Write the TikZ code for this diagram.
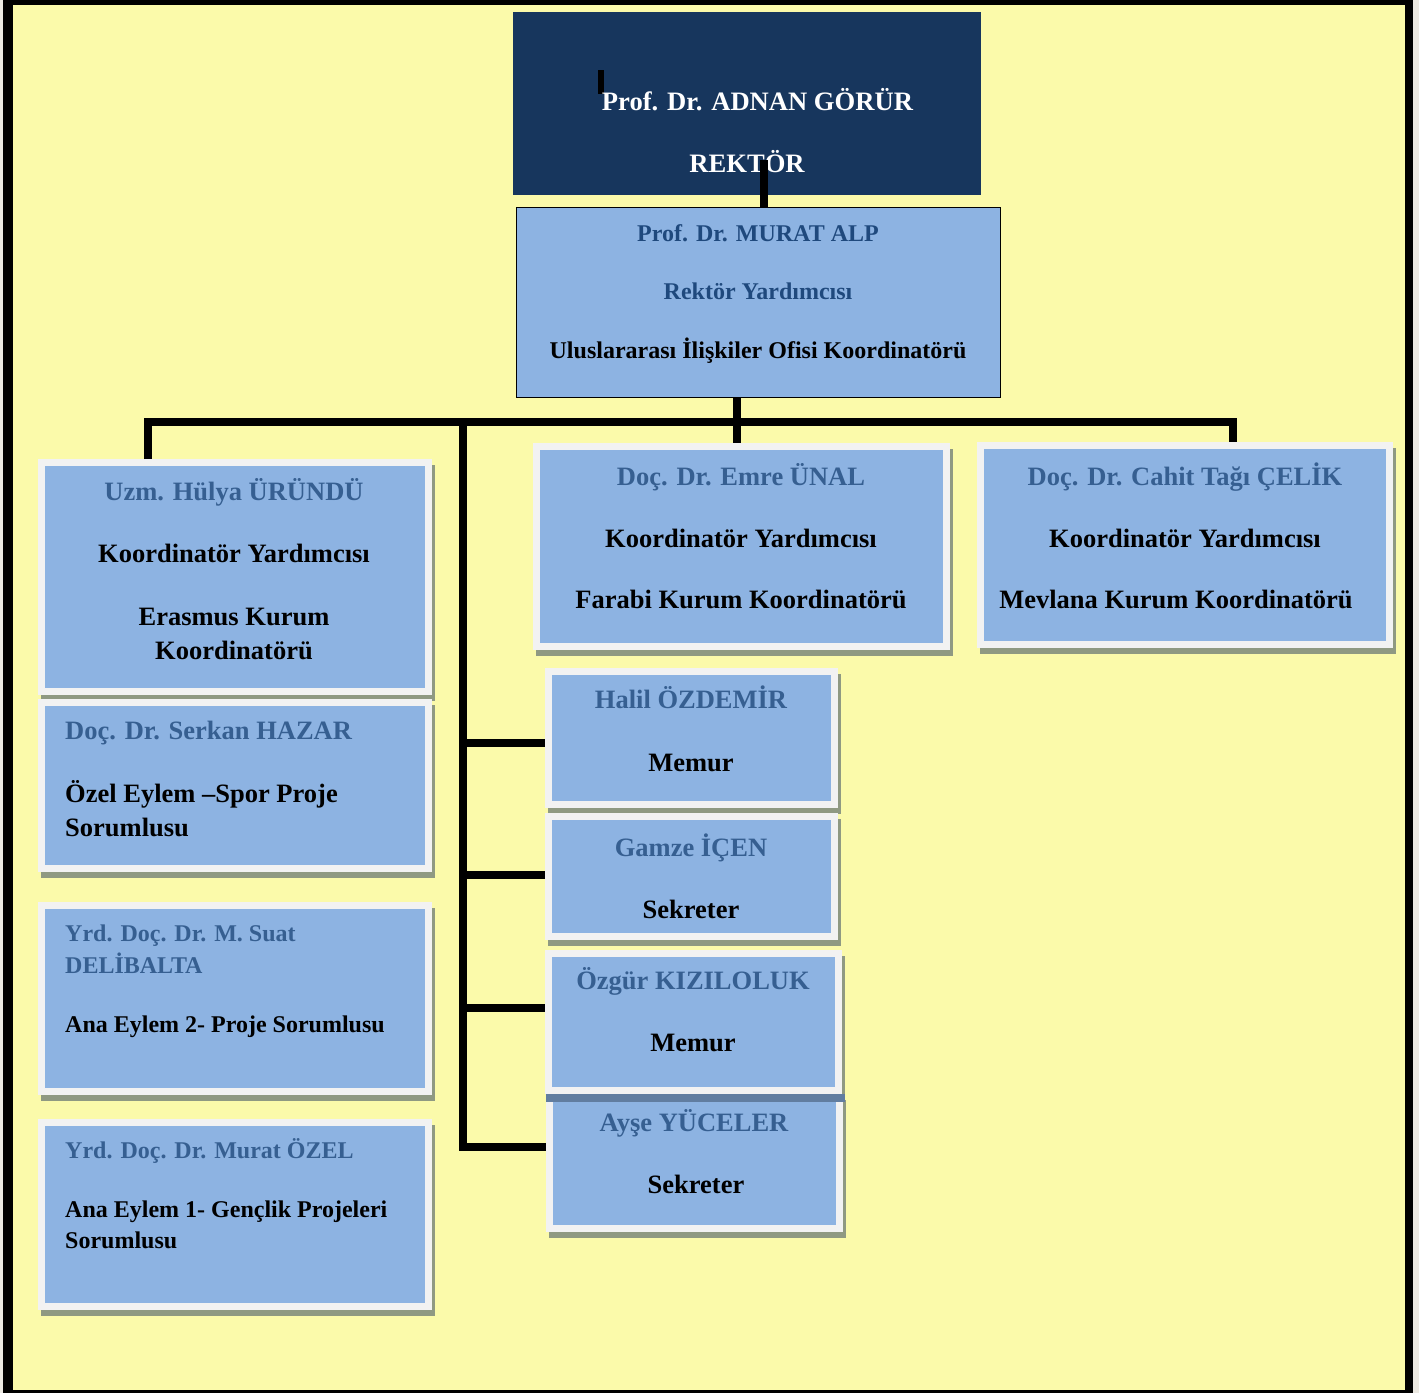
\documentclass[tikz,border=0pt]{standalone}
\usepackage{fontspec}
\setmainfont{Liberation Serif}
\definecolor{pagegray}{RGB}{236,233,226}
\definecolor{bgyellow}{RGB}{251,250,170}
\definecolor{navy}{RGB}{23,54,93}
\definecolor{boxblue}{RGB}{141,179,226}
\definecolor{boxwhite}{RGB}{242,242,242}
\definecolor{shadowc}{RGB}{143,153,130}
\definecolor{bandc}{RGB}{97,125,160}
\definecolor{namecol}{RGB}{54,95,145}
\definecolor{alpcol}{RGB}{31,73,125}
\newcommand\fsBig{\fontsize{26.5}{30}\selectfont\bfseries}
\newcommand\fsMid{\fontsize{24}{28}\selectfont\bfseries}
\tikzset{
  ob/.style={fill=boxblue, draw=boxwhite, line width=7pt, inner sep=0pt},
  conn/.style={draw=black, line width=8pt, line join=miter},
  tc/.style={anchor=base, inner sep=0pt, font=\fsBig},
  tl/.style={anchor=base west, inner sep=0pt, font=\fsBig},
  tcm/.style={anchor=base, inner sep=0pt, font=\fsMid},
  tlm/.style={anchor=base west, inner sep=0pt, font=\fsMid},
}
\newcommand\orgbox[5]{%
  \fill[shadowc] ({#2+3},{#3+6}) rectangle ({#4+3},{#5+6});
  \node[ob, minimum width={#4-#2-7}, minimum height={#5-#3-7}] (#1) at ({(#2+#4)/2},{(#3+#5)/2}) {};
}
\begin{document}
\begin{tikzpicture}[x=1pt,y=-1pt]
\useasboundingbox (0,0) rectangle (1419,1393);
% frame
\fill[pagegray] (0,0) rectangle (1419,1393);
\fill[black] (3,0) rectangle (1413,1393);
\fill[bgyellow] (13,5) rectangle (1405,1390);

% rector box
\node[fill=navy, inner sep=0pt, minimum width=468, minimum height=183] (rector) at (747,103.5) {};
\fill[black] (598,70) rectangle (604,94);
\node[tc, text=white, font=\fontsize{26.6}{30}\selectfont\bfseries] (rname) at (757.5,110) {Prof. Dr. ADNAN GÖRÜR};
\node[tc, text=white, font=\fontsize{26.6}{30}\selectfont\bfseries] (rtitle) at (747,172) {REKTÖR};

% vice rector box
\node[fill=boxblue, draw=black, line width=1.8pt, inner sep=0pt, minimum width=484, minimum height=190] (alp) at (758.5,302.5) {};
\coordinate (rt) at (764,160);
\draw[conn] (rt) -- (rt |- alp.north);
\node[tcm, text=alpcol] (alp1) at (758,241) {Prof. Dr. MURAT ALP};
\node[tcm, text=alpcol] (alp2) at (758,299) {Rektör Yardımcısı};
\node[tcm] (alp3) at (758,358) {Uluslararası İlişkiler Ofisi Koordinatörü};

% boxes
\orgbox{hulya}{38}{459}{432}{695}
\orgbox{serkan}{38}{699}{432}{872}
\orgbox{suat}{38}{902}{432}{1095}
\orgbox{ozel}{38}{1119}{432}{1310}
\orgbox{emre}{533}{443}{950}{650}
\orgbox{cahit}{977}{442}{1393}{648}
\orgbox{halil}{545}{668}{838}{808}
\orgbox{gamze}{545}{813}{838}{940}
\orgbox{ayse}{546}{1094}{843}{1232}
\orgbox{ozgur}{545}{950}{842}{1094}
\fill[bandc] (546,1094) rectangle (845,1102);

% connectors
\coordinate (lb) at (148,422);
\coordinate (rb) at (1233,422);
\coordinate (mb) at (737,422);
\coordinate (tTop) at (463,422);
\coordinate (tBot) at (463,1147);
\coordinate (b1) at (463,743);
\coordinate (b2) at (463,875);
\coordinate (b3) at (463,1008);
\draw[conn] (lb |- hulya.north) -- (lb) -- (rb) -- (rb |- cahit.north);
\draw[conn] (alp.south -| mb) -- (mb |- emre.north);
\draw[conn] (tTop) -- (tBot) -- (tBot -| ayse.west);
\draw[conn] (b1) -- (b1 -| halil.west);
\draw[conn] (b2) -- (b2 -| gamze.west);
\draw[conn] (b3) -- (b3 -| ozgur.west);

% texts
\node[tc, text=namecol] (h1) at (234,500) {Uzm. Hülya ÜRÜNDÜ};
\node[tc] (h2) at (234,562) {Koordinatör Yardımcısı};
\node[tc] (h3) at (234,625) {Erasmus Kurum};
\node[tc] (h4) at (234,659) {Koordinatörü};

\node[tl, text=namecol] (s1) at (65,739) {Doç. Dr. Serkan HAZAR};
\node[tl] (s2) at (65,802) {Özel Eylem –Spor Proje};
\node[tl] (s3) at (65,836) {Sorumlusu};

\node[tlm, text=namecol] (d1) at (65,941) {Yrd. Doç. Dr. M. Suat};
\node[tlm, text=namecol] (d2) at (65,973) {DELİBALTA};
\node[tlm] (d3) at (65,1032) {Ana Eylem 2- Proje Sorumlusu};

\node[tlm, text=namecol] (o1) at (65,1158) {Yrd. Doç. Dr. Murat ÖZEL};
\node[tlm] (o2) at (65,1217) {Ana Eylem 1- Gençlik Projeleri};
\node[tlm] (o3) at (65,1248) {Sorumlusu};

\node[tc, text=namecol] (e1) at (741,485) {Doç. Dr. Emre ÜNAL};
\node[tc] (e2) at (741,547) {Koordinatör Yardımcısı};
\node[tc] (e3) at (741,608) {Farabi Kurum Koordinatörü};

\node[tc, text=namecol] (c1) at (1185,485) {Doç. Dr. Cahit Tağı ÇELİK};
\node[tc] (c2) at (1185,547) {Koordinatör Yardımcısı};
\node[tc] (c3) at (1176,608) {Mevlana Kurum Koordinatörü};

\node[tc, text=namecol] (hl1) at (691,708) {Halil ÖZDEMİR};
\node[tc] (hl2) at (691,771) {Memur};
\node[tc, text=namecol] (g1) at (691,856) {Gamze İÇEN};
\node[tc] (g2) at (691,918) {Sekreter};
\node[tc, text=namecol] (oz1) at (693,989) {Özgür KIZILOLUK};
\node[tc] (oz2) at (693,1051) {Memur};
\node[tc, text=namecol] (a1) at (694,1131) {Ayşe YÜCELER};
\node[tc] (a2) at (696,1193) {Sekreter};
\end{tikzpicture}
\end{document}
